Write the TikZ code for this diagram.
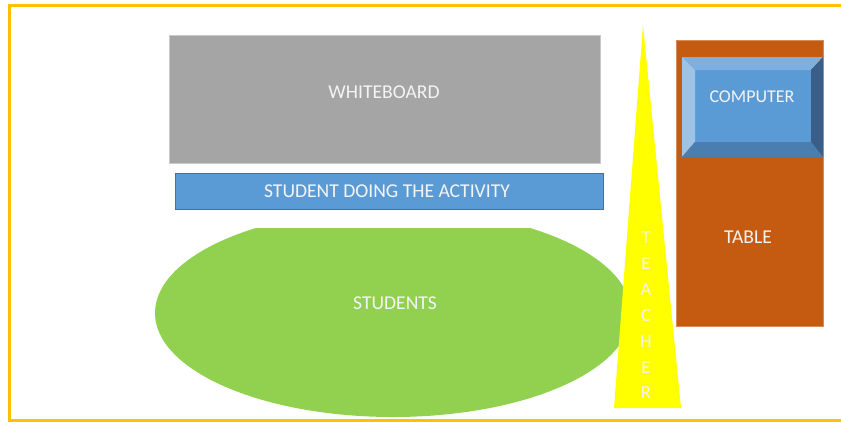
\documentclass[tikz,border=0pt]{standalone}
\usepackage{fontspec}
\setmainfont{Carlito}
\definecolor{frameY}{HTML}{FFC000}
\definecolor{wbgray}{HTML}{A5A5A5}
\definecolor{barblue}{HTML}{5B9BD5}
\definecolor{barline}{HTML}{41719C}
\definecolor{stgreen}{HTML}{92D050}
\definecolor{tblorange}{HTML}{C55A11}
\definecolor{bevtop}{HTML}{7DAFE0}
\definecolor{bevleft}{HTML}{9DC3E6}
\definecolor{bevright}{HTML}{375F8A}
\definecolor{bevbot}{HTML}{4A7DB0}
\definecolor{txtw}{HTML}{F4F4F4}
\definecolor{teachY}{HTML}{FFFF00}
\tikzset{
  lbl/.style={text=txtw, font=\fontsize{19.6}{22}\selectfont, inner sep=0pt},
  tlet/.style={text=txtw, font=\fontsize{18.5}{20}\selectfont, inner sep=0pt}
}
\begin{document}
\begin{tikzpicture}[x=1pt,y=-1pt]
\useasboundingbox (0,0) rectangle (841,421);
\begin{scope}
\clip (0,0) rectangle (841,421);
% frame
\draw[frameY, line width=3pt] (9.5,5.5) rectangle (860,420.5);
% whiteboard
\filldraw[fill=wbgray, draw=wbgray!60, line width=0.6pt] (169,35) rectangle (600,163);
\node[lbl] (wb) at (384,92) {WHITEBOARD};
% student bar
\filldraw[fill=barblue, draw=barline, line width=0.8pt] (175,173) rectangle (603,209);
\node[lbl] (act) at (387,191) {STUDENT DOING THE ACTIVITY};
% students ellipse
\begin{scope}
\clip (0,228) rectangle (841,421);
\fill[stgreen] (393,313) ellipse [x radius=238, y radius=104];
\end{scope}
\node[lbl] (st) at (395,303) {STUDENTS};
% teacher
\fill[teachY] (643,25) -- (681,408) -- (614,408) -- cycle;
\node[tlet] (t1) at (646,238) {T};
\node[tlet] (t2) at (646,264) {E};
\node[tlet] (t3) at (646,290) {A};
\node[tlet] (t4) at (646,316) {C};
\node[tlet] (t5) at (646,342) {H};
\node[tlet] (t6) at (646,368) {E};
\node[tlet] (t7) at (646,393) {R};
% table
\filldraw[fill=tblorange, draw=tblorange!70, line width=0.6pt] (676,40) rectangle (823,326);
\node[lbl] (tbl) at (748,237) {TABLE};
% computer bevel
\fill[barblue] (695,70) rectangle (811,142);
\fill[bevtop] (682,57) -- (823,57) -- (811,70) -- (695,70) -- cycle;
\fill[bevleft] (682,57) -- (695,70) -- (695,142) -- (682,157) -- cycle;
\fill[bevright] (823,57) -- (823,157) -- (811,142) -- (811,70) -- cycle;
\fill[bevbot] (682,157) -- (695,142) -- (811,142) -- (823,157) -- cycle;
\node[lbl, font=\fontsize{18}{20}\selectfont] (comp) at (752,97) {COMPUTER};
\end{scope}
\end{tikzpicture}
\end{document}
